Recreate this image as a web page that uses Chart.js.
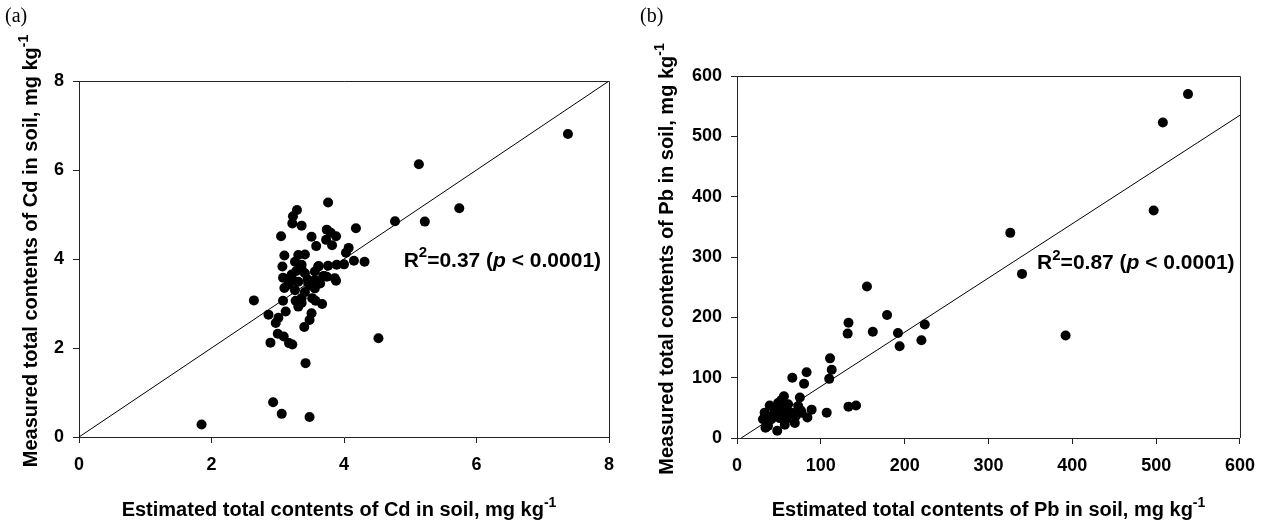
<!DOCTYPE html>
<html>
<head>
<meta charset="utf-8">
<script src="https://cdn.jsdelivr.net/npm/chart.js@4"></script>
<style>
  html, body { margin: 0; padding: 0; background: #fff; }
  #wrap { position: relative; width: 1266px; height: 522px; }
  canvas { position: absolute; top: 0; }
  #cA { left: 0; }
  #cB { left: 633px; }
  .tag { position: absolute; top: 4px; font: 20px "Liberation Serif", serif; color: #000; }
</style>
</head>
<body>
<div id="wrap">
  <canvas id="cA" width="633" height="522"></canvas>
  <canvas id="cB" width="633" height="522"></canvas>
  <div class="tag" style="left:5px">(a)</div>
  <div class="tag" style="left:640px">(b)</div>
</div>
<script>
// ---- data ----
// (a) Cd: estimated (x) vs measured (y), mg/kg
const cdEst = [
  1.85, 2.93, 3.06, 3.48, 3.42, 4.52,
  2.89, 3.17, 3.22, 3.00, 3.09,
  2.86, 2.97, 3.01, 3.12, 2.64,
  3.40, 3.48, 3.51, 3.67, 3.31,
  3.08, 3.27, 3.36, 3.52, 3.57,
  3.05, 3.10, 3.07, 3.08, 3.10,
  3.29, 3.23, 3.22, 3.36, 3.76,
  3.51, 3.58, 3.74, 3.80, 3.73, 3.82, 3.88,
  4.18, 4.07, 4.03, 4.00, 4.15, 4.31,
  4.77, 5.22, 5.13, 5.74, 7.38,
  3.31, 3.41, 3.26, 3.36, 3.61, 3.76, 3.89,
  3.21, 3.41, 3.56, 3.74, 3.86, 3.88,
  3.16, 3.31, 3.46, 3.56, 3.64,
  3.26, 3.41, 3.56, 3.51, 3.36, 3.69, 3.18, 3.24, 3.45, 3.62, 3.28, 3.36
];
const cdMeas = [
  0.28, 0.78, 0.52, 0.45, 1.66, 2.22,
  2.12, 2.11, 2.08, 2.32, 2.26,
  2.75, 2.56, 2.68, 2.82, 3.07,
  2.47, 2.63, 2.78, 2.99, 2.93,
  3.06, 3.06, 3.12, 3.12, 3.06,
  4.51, 4.08, 3.83, 3.58, 3.35,
  5.10, 4.96, 4.80, 4.75, 5.27,
  4.50, 4.29, 4.66, 4.59, 4.43, 4.31, 4.51,
  4.69, 4.25, 4.14, 3.88, 3.96, 3.94,
  4.85, 4.84, 6.13, 5.14, 6.81,
  4.09, 4.10, 3.94, 3.87, 3.83, 3.85, 3.87,
  3.65, 3.68, 3.72, 3.60, 3.57, 3.51,
  3.42, 3.49, 3.45, 3.53, 3.45,
  3.30, 3.26, 3.34, 3.40, 3.01, 3.62, 3.58, 3.51, 3.54, 3.84, 3.73, 3.77
];
// (b) Pb
const pbEst = [
  538, 508, 497, 392, 326, 340,
  155, 179, 162, 192, 194, 224, 220,
  133, 132, 111, 113, 110, 107, 133, 142,
  66, 83, 80, 75, 89, 84, 76, 69, 48, 34,
  56, 39, 49, 61, 33, 45, 55, 65, 77, 31, 41, 51, 59, 37, 57, 49, 73, 53, 44, 62, 70, 36, 58
];
const pbMeas = [
  570, 523, 377, 170, 340, 272,
  251, 204, 176, 174, 152, 188, 162,
  191, 173, 132, 113, 98, 42, 52, 54,
  100, 109, 90, 67, 47, 34, 46, 25, 12, 17,
  69, 54, 58, 56, 42, 45, 48, 42, 42, 31, 31, 33, 31, 20, 22, 36, 53, 63, 40, 38, 36, 28, 45
];
// reference / fitted lines
const cdFitX = [0, 8], cdFitY = [0, 8];
const pbFitX = [5, 600], pbFitY = [0, 535];
// axis ranges
const cdTicks = [0, 2, 4, 6, 8];
const pbTicks = [0, 100, 200, 300, 400, 500, 600];

const $ = (id) => document.getElementById(id);
const pairs = (xs, ys) => xs.map((x, i) => ({ x, y: ys[i] }));
const FONT = '"Liberation Sans", Arial, sans-serif';

// draws a run of text pieces; pieces may be superscript or italic
function drawRich(ctx, parts, x, y, align, size = 20) {
  const fontFor = (p) => `${p.it ? 'italic ' : ''}bold ${p.sup ? Math.round(size * 0.7) : size}px ${FONT}`;
  let w = 0;
  parts.forEach(p => { ctx.font = fontFor(p); w += ctx.measureText(p.t).width; });
  let cx = align === 'center' ? x - w / 2 : x;
  ctx.textAlign = 'left';
  ctx.textBaseline = 'alphabetic';
  parts.forEach(p => {
    ctx.font = fontFor(p);
    ctx.fillText(p.t, cx, p.sup ? y - size * 0.47 : y);
    cx += ctx.measureText(p.t).width;
  });
}

const decor = {
  id: 'decor',
  afterDraw(chart, args, o) {
    const { ctx, chartArea: a, scales } = chart;
    ctx.save();
    ctx.strokeStyle = '#222';
    ctx.lineWidth = 1;
    ctx.beginPath();
    ctx.moveTo(a.left, a.top + 0.5); ctx.lineTo(a.right + 0.5, a.top + 0.5);
    ctx.lineTo(a.right + 0.5, a.bottom);
    ctx.stroke();
    ctx.fillStyle = '#000';
    const cx = (a.left + a.right) / 2;
    // x title
    drawRich(ctx, [{ t: o.xTitle }, { t: '-1', sup: true }], cx + o.xTitleShift, 516, 'center');
    // y title (rotated)
    ctx.save();
    ctx.translate(o.yTitleX, o.yTitleY);
    ctx.rotate(-Math.PI / 2);
    drawRich(ctx, [{ t: o.yTitle }, { t: '-1', sup: true }], 0, 0, 'center');
    ctx.restore();
    // R2 note
    const px = scales.x.getPixelForValue(o.note[0]);
    const py = scales.y.getPixelForValue(o.note[1]) + 7;
    drawRich(ctx, [{ t: 'R' }, { t: '2', sup: true }, { t: '=' + o.r2 + ' (' }, { t: 'p', it: true }, { t: ' < 0.0001)' }], px, py, 'left', 21);
    ctx.restore();
  }
};

function buildScatter(canvasId, pts, fit, ticks, opt) {
  const tickFont = { family: FONT, size: 18, weight: 'bold' };
  const axis = (t, size, isY) => ({
    type: 'linear',
    min: t[0], max: t[t.length - 1],
    ticks: { stepSize: t[1] - t[0], color: '#000', font: tickFont, padding: isY ? 9 : 11 },
    grid: { drawOnChartArea: false, tickLength: 6, color: '#222' },
    border: { color: '#222', width: 1 },
    afterFit: (s) => { if (isY) s.width = size; else s.height = size; }
  });
  return new Chart($(canvasId).getContext('2d'), {
    type: 'scatter',
    data: {
      datasets: [
        { data: pts, pointRadius: 5, pointBackgroundColor: '#000', pointBorderWidth: 0 },
        { type: 'line', data: fit, borderColor: '#000', borderWidth: 1, pointRadius: 0, fill: false }
      ]
    },
    options: {
      responsive: false,
      animation: false,
      devicePixelRatio: 1,
      layout: { padding: { top: opt.top, right: opt.right, left: 0, bottom: 0 } },
      plugins: { legend: { display: false }, tooltip: { enabled: false }, decor: opt },
      scales: {
        x: axis(ticks, 522 - opt.bottom, false),
        y: axis(ticks, opt.left, true)
      }
    },
    plugins: [decor]
  });
}

buildScatter('cA', pairs(cdEst, cdMeas), pairs(cdFitX, cdFitY), cdTicks, {
  top: 81, right: 24, left: 79, bottom: 437, yTitleX: 37, yTitleY: 251, xTitleShift: -5,
  xTitle: 'Estimated total contents of Cd in soil, mg kg',
  yTitle: 'Measured total contents of Cd in soil, mg kg',
  note: [4.9, 3.98], r2: '0.37'
});
buildScatter('cB', pairs(pbEst, pbMeas), pairs(pbFitX, pbFitY), pbTicks, {
  top: 76, right: 26, left: 104, bottom: 438, yTitleX: 40, yTitleY: 259, xTitleShift: 0,
  xTitle: 'Estimated total contents of Pb in soil, mg kg',
  yTitle: 'Measured total contents of Pb in soil, mg kg',
  note: [358, 291], r2: '0.87'
});
</script>
</body>
</html>
